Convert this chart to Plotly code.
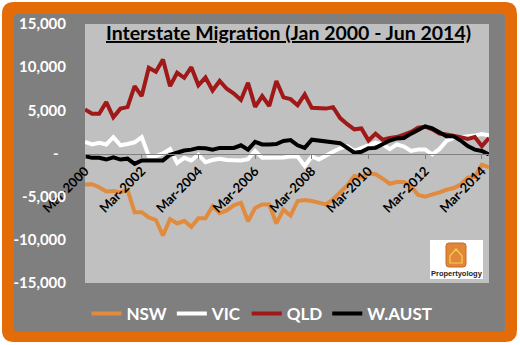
import plotly.graph_objects as go

# ---------------- data ----------------
years = list(range(2000, 2015))
quarters = []
for yv in years:
    for m in ["Mar", "Jun", "Sep", "Dec"]:
        quarters.append(f"{m}-{yv}")
quarters = quarters[:58]  # Mar-2000 .. Jun-2014

nsw = [-3600, -3550, -3900, -4400, -4350, -4500, -4200, -6800, -6800, -7400,
       -7700, -9500, -7600, -8100, -7800, -8500, -7500, -7500, -6100, -6900,
       -6600, -6000, -5700, -7850, -6300, -5900, -5900, -8100, -6500, -7200,
       -5500, -5400, -5500, -5700, -5900, -5300, -4500, -3700, -2600, -2800,
       -2300, -2400, -2900, -3500, -3300, -3300, -3800, -4800, -5000, -4800,
       -4500, -4200, -4000, -3600, -2800, -2700, -1300, -1600]
vic = [1350, 1050, 1250, 1050, 1900, 950, 1100, 1300, 1900, -300,
       -300, 0, 500, -1100, -500, -800, -150, -1000, -750, -600,
       -750, -800, -800, -650, 300, -500, -500, -500, -450, -350,
       -350, -1450, -350, -700, -200, 200, 600, 850, 300, 650,
       1000, 1250, 1050, 500, 1050, 800, 300, 450, 450, -100,
       500, 1450, 1800, 1900, 1900, 2100, 2250, 2100]
qld = [5100, 4600, 4600, 5950, 4200, 5200, 5370, 7800, 6650, 9930,
       9470, 10900, 7800, 9350, 8770, 10000, 7900, 8800, 7300, 8400,
       7500, 6950, 6200, 8190, 5400, 6650, 5500, 8390, 6500, 6300,
       5600, 6840, 5290, 5200, 5200, 5370, 4100, 3400, 2800, 2900,
       1500, 2300, 1600, 1800, 1900, 2200, 2500, 3000, 3100, 2800,
       2300, 2200, 2100, 1900, 1700, 1900, 850, 1800]
waust = [-300, -500, -500, -700, -450, -700, -600, -1200, -800, -800,
         -800, -800, -150, 100, 350, 450, 650, 600, 450, 650,
         600, 650, 950, 450, 1350, 1050, 1050, 1100, 1450, 1550,
         950, 650, 1600, 1500, 1500, 1400, 1200, 650, 100, 200,
         600, 650, 1050, 1500, 1750, 1800, 2300, 2750, 3150, 2900,
         2400, 2000, 2000, 1500, 850, 450, 300, -100]

series_names = ["NSW", "VIC", "QLD", "W.AUST"]
series_colors = ["#E08B3E", "#FFFFFF", "#A01818", "#000000"]
series_values = [nsw, vic, qld, waust]

x_tick_labels = [f"Mar-{yv}" for yv in range(2000, 2015, 2)]
y_tick_vals = [15000, 10000, 5000, 0, -5000, -10000, -15000]
y_tick_text = ["15,000", "10,000", "5,000", "-\u00a0\u00a0", "-5,000", "-10,000", "-15,000"]

title_text = "Interstate Migration (Jan 2000 - Jun 2014)"

# ---------------- layout geometry (pixels) ----------------
W_PX, H_PX = 520, 345
L, R, T, B = 85, 489, 24, 283
PW, PH = R - L, B - T


def px(xp):
    return (xp - L) / PW


def py(yp):
    return (B - yp) / PH


def rounded_path(x0, y0, x1, y1, r):
    pts = []
    pts.append(f"M {px(x0 + r)},{py(y0)}")
    pts.append(f"L {px(x1 - r)},{py(y0)}")
    pts.append(f"Q {px(x1)},{py(y0)} {px(x1)},{py(y0 + r)}")
    pts.append(f"L {px(x1)},{py(y1 - r)}")
    pts.append(f"Q {px(x1)},{py(y1)} {px(x1 - r)},{py(y1)}")
    pts.append(f"L {px(x0 + r)},{py(y1)}")
    pts.append(f"Q {px(x0)},{py(y1)} {px(x0)},{py(y1 - r)}")
    pts.append(f"L {px(x0)},{py(y0 + r)}")
    pts.append(f"Q {px(x0)},{py(y0)} {px(x0 + r)},{py(y0)}")
    pts.append("Z")
    return " ".join(pts)


FONT = "Lato, 'Liberation Sans', Arial, sans-serif"

fig = go.Figure()
for name, col, vals in zip(series_names, series_colors, series_values):
    fig.add_trace(go.Scatter(
        x=quarters, y=vals, name=name, mode="lines",
        line=dict(color=col, width=4),
    ))

shapes = [
    dict(type="path", xref="paper", yref="paper", layer="below",
         path=rounded_path(2, 2, 517, 342, 12),
         fillcolor="#E36C09", line=dict(width=0)),
    dict(type="path", xref="paper", yref="paper", layer="below",
         path=rounded_path(14, 14, 505, 332, 4),
         fillcolor="#7F7F7F", line=dict(width=0)),
    dict(type="rect", xref="paper", yref="paper", layer="below",
         x0=0, x1=1, y0=0, y1=1,
         fillcolor="#C0C0C0", line=dict(width=0)),
    dict(type="rect", xref="paper", yref="paper", layer="below",
         x0=px(430), x1=px(483), y0=py(279), y1=py(240),
         fillcolor="#FFFFFF", line=dict(width=0)),
    dict(type="path", xref="paper", yref="paper", layer="below",
         path=rounded_path(446, 243, 466, 267, 3),
         fillcolor="#E0873A", line=dict(color="#C56A25", width=1)),
    dict(type="path", xref="paper", yref="paper", layer="below",
         path=(f"M {px(450)},{py(256)} L {px(456)},{py(249)} L {px(462)},{py(256)} "
               f"L {px(462)},{py(263)} L {px(450)},{py(263)} Z"),
         fillcolor="rgba(0,0,0,0)", line=dict(color="#F6D04D", width=1.2)),
]

annotations = [
    dict(xref="paper", yref="paper", x=px(288), y=py(32),
         text=f"<b><u>{title_text}</u></b>", showarrow=False,
         xanchor="center", yanchor="middle",
         font=dict(family=FONT, size=19.5, color="#000000")),
    dict(xref="paper", yref="paper", x=px(456.5), y=py(273.5),
         text="<b>Propertyology</b>", showarrow=False,
         xanchor="center", yanchor="middle",
         font=dict(family="'Liberation Sans', Arial, sans-serif", size=7.5, color="#222222")),
]

fig.update_layout(
    width=W_PX, height=H_PX,
    margin=dict(l=L, r=W_PX - R, t=T, b=H_PX - B, pad=0),
    paper_bgcolor="#FFFFFF",
    plot_bgcolor="rgba(0,0,0,0)",
    shapes=shapes,
    annotations=annotations,
    showlegend=True,
    legend=dict(
        orientation="h", x=px(262), xanchor="center",
        y=py(314), yanchor="middle",
        font=dict(family=FONT, size=17, color="#FFFFFF", weight="bold"),
        bgcolor="rgba(0,0,0,0)",
        itemwidth=30,
        traceorder="normal",
    ),
    xaxis=dict(
        type="category",
        categoryorder="array", categoryarray=quarters,
        range=[0, len(quarters) - 1],
        anchor="free", position=0.5,
        tickmode="array", tickvals=x_tick_labels, ticktext=x_tick_labels,
        tickangle=-45,
        tickfont=dict(family=FONT, size=13, color="#000000", weight="bold"),
        showline=True, linecolor="#808080", linewidth=1,
        ticks="outside", ticklen=4, tickcolor="#808080", tickwidth=1,
        showgrid=False, zeroline=False,
    ),
    yaxis=dict(
        range=[-15000, 15000],
        tickmode="array", tickvals=y_tick_vals, ticktext=y_tick_text,
        tickfont=dict(family=FONT, size=15, color="#FFFFFF", weight="bold"),
        ticklabelstandoff=18,
        showgrid=False, zeroline=False, showline=False, ticks="",
    ),
)

fig.write_html("out.html")
